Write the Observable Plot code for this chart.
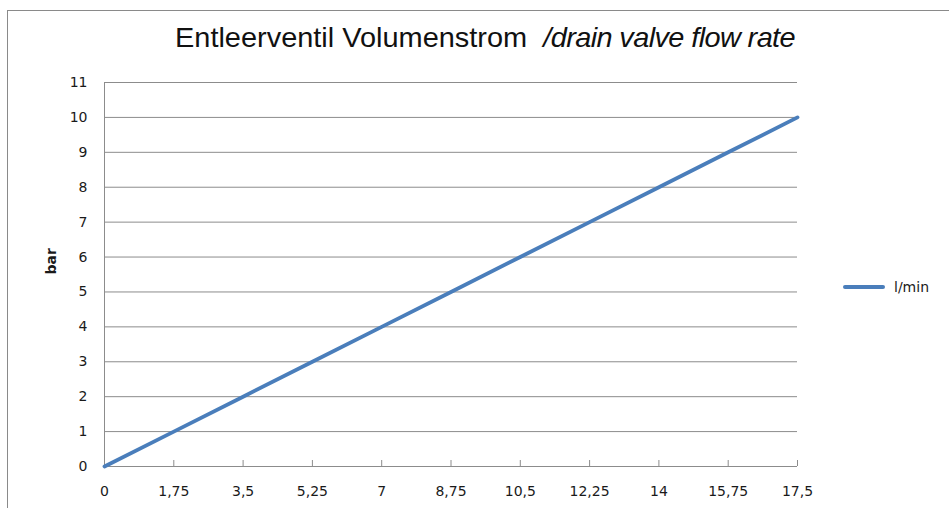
<!DOCTYPE html>
<html><head><meta charset="utf-8">
<script src="https://cdn.jsdelivr.net/npm/d3@7"></script>
<script src="https://cdn.jsdelivr.net/npm/@observablehq/plot@0.6"></script>
<style>
body{margin:0;background:#fff;}
#wrap{position:relative;width:949px;height:508px;overflow:hidden;font-family:"DejaVu Sans",sans-serif;}
#border{position:absolute;left:7px;top:10px;width:1000px;height:1000px;border-top:1px solid #8a8a8a;border-left:1px solid #8a8a8a;}
#title{position:absolute;left:175px;top:22px;font-family:"Liberation Sans",Arial,sans-serif;font-size:28px;color:#111;white-space:pre;transform-origin:0 0;}
#legend{position:absolute;left:843px;top:279px;font-size:14px;color:#1a1a1a;display:flex;align-items:center;}
#legend span.sw{display:inline-block;width:42px;height:4px;background:#4A7EBB;margin-right:9px;border-radius:2px;}
#plot{position:absolute;left:0;top:0;}
</style></head>
<body>
<div id="wrap">
<div id="border"></div>
<div id="plot"></div>
<div id="title">Entleerventil Volumenstrom  <i style="letter-spacing:-0.6px">/drain valve flow rate</i></div>
<div id="legend"><span class="sw"></span>l/min</div>
</div>
<script>
const flow = [0, 1.75, 3.5, 5.25, 7, 8.75, 10.5, 12.25, 14, 15.75, 17.5];
const pressure = [0, 1, 2, 3, 4, 5, 6, 7, 8, 9, 10];
const yTicks = [0,1,2,3,4,5,6,7,8,9,10,11];
const seriesName = "l/min";
const data = flow.map((f, i) => ({flow: f, bar: pressure[i]}));
const fmt = d => String(d).replace(".", ",");
const chart = Plot.plot({
  width: 949, height: 508,
  marginLeft: 104, marginRight: 152, marginTop: 82, marginBottom: 42,
  style: {fontFamily: "'DejaVu Sans', sans-serif", fontSize: "14px", color: "#1a1a1a", background: "transparent"},
  x: {domain: [0, 17.5], ticks: flow, tickFormat: fmt, label: null},
  y: {domain: [0, 11], ticks: yTicks, label: null},
  marks: [
    Plot.gridY(yTicks, {stroke: "#8c8c8c", strokeOpacity: 1, strokeWidth: 1}),
    Plot.ruleX([0], {stroke: "#8c8c8c", y1: 0, y2: 11}),
    Plot.ruleX(flow, {x: d => d, y1: 0, y2: 0, stroke: "#8c8c8c", insetTop: -6}),
    Plot.axisX(flow, {tickFormat: fmt, tickSize: 0, tickPadding: 20, fontSize: 14}),
    Plot.axisY(yTicks, {tickSize: 0, tickPadding: 17, fontSize: 14}),
    Plot.text(["bar"], {frameAnchor: "left", dx: -53, rotate: -90, fontWeight: "bold", fontSize: 14}),
    Plot.line(data, {x: "flow", y: "bar", stroke: "#4A7EBB", strokeWidth: 3.8, strokeLinecap: "round"})
  ]
});
document.getElementById("plot").appendChild(chart);
// fit title to reference width (175 → 795)
const t = document.getElementById("title");
const w = t.getBoundingClientRect().width;
t.style.transform = `scaleX(${620 / w})`;
</script>
</body></html>
